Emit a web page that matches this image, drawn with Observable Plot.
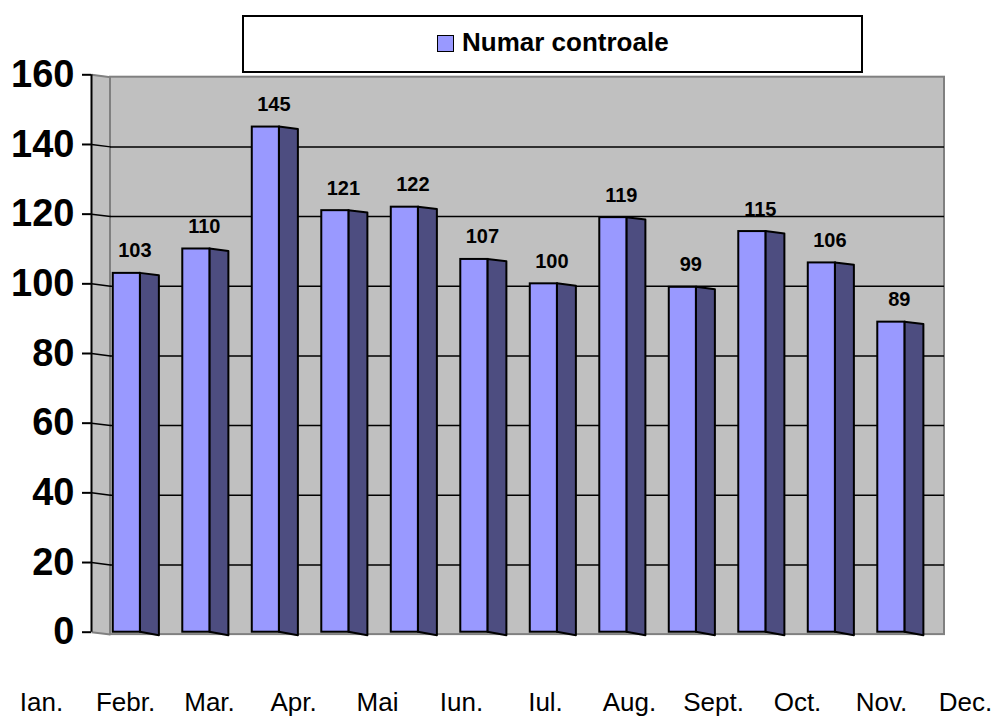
<!DOCTYPE html>
<html><head><meta charset="utf-8">
<script src="https://cdn.jsdelivr.net/npm/d3@7"></script>
<script src="https://cdn.jsdelivr.net/npm/@observablehq/plot@0.6"></script>
<style>
html,body{margin:0;padding:0;background:#fff;overflow:hidden;}
#wrap{position:relative;width:996px;height:717px;font-family:"Liberation Sans",Arial,sans-serif;}
#chart svg,#labels svg{display:block;}
#legend{position:absolute;left:242px;top:15px;width:621px;height:58px;box-sizing:border-box;border:2px solid #000;background:#fff;}
#legend .sw{position:absolute;left:193px;top:18px;width:17px;height:17px;box-sizing:border-box;border:1.5px solid #000;background:#9999ff;}
#legend .lt{position:absolute;left:218px;top:12px;font-size:26px;line-height:26px;font-weight:bold;white-space:nowrap;color:#000;}
</style></head>
<body><div id="wrap"><div id="chart"></div><div id="labels"></div><div id="legend"><div class="sw"></div><div class="lt"></div></div></div>
<script>
const months = ["Ian.", "Febr.", "Mar.", "Apr.", "Mai", "Iun.", "Iul.", "Aug.", "Sept.", "Oct.", "Nov.", "Dec."];
const values = [103, 110, 145, 121, 122, 107, 100, 119, 99, 115, 106, 89];
const yTicks = [0, 20, 40, 60, 80, 100, 120, 140, 160];
const seriesName = "Numar controale";

const n = months.length;
const yMax = yTicks[yTicks.length - 1];
const DX = 19 / 69.5;   // 3D depth in band units
const SY = 0.69;        // 3D slant in value units
const FRONT0 = 0.04, FRONT1 = 0.43;

const rows = months.map((m, i) => ({month: m, i, value: values[i]}));
const side = rows.flatMap(d => [
  {month: d.month, x: d.i + FRONT1, lo: 0, hi: d.value},
  {month: d.month, x: d.i + FRONT1 + DX, lo: -1.0, hi: d.value - SY}
]);
const inner = yTicks.filter(v => v > 0 && v < yMax);
const edges = yTicks.filter(v => v === 0 || v === yMax);

const chart = Plot.plot({
  width: 996, height: 655,
  marginLeft: 91, marginRight: 52, marginTop: 74, marginBottom: 21,
  style: {fontFamily: "Liberation Sans, Arial, sans-serif", color: "black", background: "transparent"},
  x: {type: "linear", domain: [0, n], range: [110, 944], axis: null},
  y: {type: "linear", domain: [0, yMax], range: [631.7, 74.3]},
  marks: [
    // left side wall
    Plot.areaY([{x: -DX, lo: 0, hi: yMax}, {x: 0, lo: -SY, hi: yMax - SY}],
      {x: "x", y1: "lo", y2: "hi", fill: "#c0c0c0"}),
    // back wall
    Plot.rect([0], {x1: 0, x2: n, y1: -SY, y2: yMax - SY, fill: "#c0c0c0", stroke: "#808080", strokeWidth: 2}),
    // gridlines on back wall
    Plot.ruleY(inner, {y: d => d - SY, x1: 0, x2: n, stroke: "black", strokeWidth: 1.5}),
    // gridlines on side wall
    Plot.link(inner, {x1: -DX, y1: d => d, x2: 0, y2: d => d - SY, stroke: "black", strokeWidth: 1.5}),
    Plot.link(edges, {x1: -DX, y1: d => d, x2: 0, y2: d => d - SY, stroke: "#808080", strokeWidth: 2}),
    // axis line
    Plot.ruleX([-DX], {x: d => d, y1: 0, y2: yMax, stroke: "black", strokeWidth: 2}),
    Plot.axisY(yTicks, {anchor: "left", tickSize: 9, tickPadding: 8, fontSize: 38, fontWeight: "bold", strokeWidth: 2, label: null}),
    // bar side faces
    Plot.areaY(side, {x: "x", y1: "lo", y2: "hi", z: "month", fill: "#4d4d80", stroke: "black", strokeWidth: 2}),
    // bar front faces
    Plot.rect(rows, {x1: d => d.i + FRONT0, x2: d => d.i + FRONT1, y1: 0, y2: "value", fill: "#9999ff", stroke: "black", strokeWidth: 2}),
    // value labels
    Plot.text(rows, {x: d => d.i + 0.35, y: "value", text: d => String(d.value), dy: -16, lineAnchor: "bottom", fontSize: 20, fontWeight: "bold", fill: "black"})
  ]
});
document.getElementById("chart").appendChild(chart);

const labels = Plot.plot({
  width: 996, height: 62, marginTop: 0, marginBottom: 7, marginLeft: 0, marginRight: 0,
  style: {fontFamily: "Liberation Sans, Arial, sans-serif", color: "black", background: "transparent"},
  x: {type: "point", domain: months, range: [38, 967], padding: 0, axis: null},
  marks: [
    Plot.text(months, {x: d => d, frameAnchor: "bottom", lineAnchor: "bottom", fontSize: 26, fill: "black"})
  ]
});
document.getElementById("labels").appendChild(labels);

document.querySelector("#legend .lt").textContent = seriesName;
</script>
</body></html>
